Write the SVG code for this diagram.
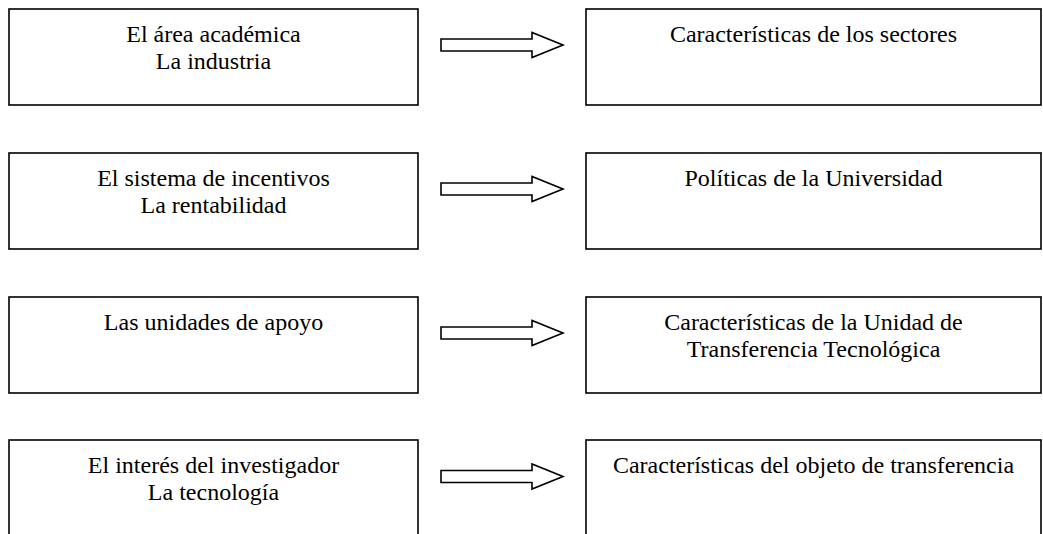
<svg xmlns="http://www.w3.org/2000/svg" width="1043" height="534" viewBox="0 0 1043 534">
<defs>
<style>
.box{fill:#fff;stroke:#000;stroke-width:1.6}
.arr{fill:#fff;stroke:#000;stroke-width:1.6;stroke-linejoin:miter}
text{font-family:"Liberation Serif","Times New Roman",serif;font-size:24px;fill:#000;text-anchor:middle}
</style>
<path id="arrow" d="M441,-6 H532 V-12.5 L563,0 L532,12.5 V6 H441 Z"/>
</defs>
<rect width="1043" height="534" fill="#fff"/>
<g id="connectors">
<use href="#arrow" class="arr" transform="translate(0,45)"/>
<use href="#arrow" class="arr" transform="translate(0,189)"/>
<use href="#arrow" class="arr" transform="translate(0,333)"/>
<use href="#arrow" class="arr" transform="translate(0,476.5)"/>
</g>
<g id="n1">
<rect class="box" x="9" y="9" width="409" height="96"/>
<text x="213.5" y="42">El área académica</text>
<text x="213.5" y="69">La industria</text>
</g>
<g id="n2">
<rect class="box" x="586" y="9" width="455" height="96"/>
<text x="813.5" y="42">Características de los sectores</text>
</g>
<g id="n3">
<rect class="box" x="9" y="153" width="409" height="96"/>
<text x="213.5" y="186">El sistema de incentivos</text>
<text x="213.5" y="213">La rentabilidad</text>
</g>
<g id="n4">
<rect class="box" x="586" y="153" width="455" height="96"/>
<text x="813.5" y="186">Políticas de la Universidad</text>
</g>
<g id="n5">
<rect class="box" x="9" y="297" width="409" height="96"/>
<text x="213.5" y="330">Las unidades de apoyo</text>
</g>
<g id="n6">
<rect class="box" x="586" y="297" width="455" height="96"/>
<text x="813.5" y="330">Características de la Unidad de</text>
<text x="813.5" y="357">Transferencia Tecnológica</text>
</g>
<g id="n7">
<rect class="box" x="9" y="440" width="409" height="110"/>
<text x="213.5" y="473">El interés del investigador</text>
<text x="213.5" y="500">La tecnología</text>
</g>
<g id="n8">
<rect class="box" x="586" y="440" width="455" height="110"/>
<text x="813.5" y="473">Características del objeto de transferencia</text>
</g>
</svg>
